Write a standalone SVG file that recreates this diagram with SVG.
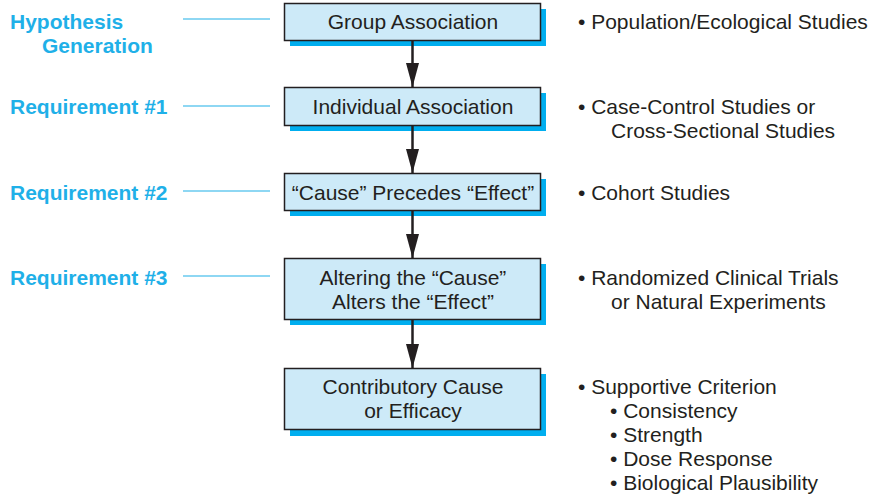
<svg xmlns="http://www.w3.org/2000/svg" width="873" height="496" viewBox="0 0 873 496">
<style>
.bx{fill:#cdeaf8;stroke:#231f20;stroke-width:1.5}
.sh{fill:#00aeef}
.bt{font-family:"Liberation Sans",Arial,sans-serif;font-size:21px;fill:#231f20;text-anchor:middle}
.lt{font-family:"Liberation Sans",Arial,sans-serif;font-size:21px;font-weight:bold;fill:#1fb0e8}
.rt{font-family:"Liberation Sans",Arial,sans-serif;font-size:21px;fill:#231f20}
.ln{stroke:#1fb0e8;stroke-width:1.2}
.ar{stroke:#231f20;stroke-width:2.5;fill:none}
</style>
<defs>
<marker id="ah" viewBox="0 0 24 13" refX="24" refY="6.5" markerWidth="24" markerHeight="13" markerUnits="userSpaceOnUse" orient="auto">
<path d="M0,0 L24,6.5 L0,13 z" fill="#231f20"/>
</marker>
</defs>
<g id="node1">
<rect class="sh" x="290" y="9" width="256" height="37"/>
<rect class="bx" x="284.5" y="3.5" width="256" height="37"/>
<text class="bt" x="413" y="29">Group Association</text>
</g>
<g id="node2">
<rect class="sh" x="290" y="93" width="256" height="38"/>
<rect class="bx" x="284.5" y="87.5" width="256" height="38"/>
<text class="bt" x="413" y="114">Individual Association</text>
</g>
<g id="node3">
<rect class="sh" x="290" y="179" width="256" height="37"/>
<rect class="bx" x="284.5" y="173.5" width="256" height="37"/>
<text class="bt" x="413" y="200">“Cause” Precedes “Effect”</text>
</g>
<g id="node4">
<rect class="sh" x="290" y="264" width="256" height="61"/>
<rect class="bx" x="284.5" y="258.5" width="256" height="61"/>
<text class="bt" x="413" y="285">Altering the “Cause”</text>
<text class="bt" x="413" y="309">Alters the “Effect”</text>
</g>
<g id="node5">
<rect class="sh" x="290" y="374" width="256" height="62"/>
<rect class="bx" x="284.5" y="368.5" width="256" height="61"/>
<text class="bt" x="413" y="394">Contributory Cause</text>
<text class="bt" x="413" y="418">or Efficacy</text>
</g>
<g id="connectors">
<line class="ar" x1="412.5" y1="41" x2="412.5" y2="87" marker-end="url(#ah)"/>
<line class="ar" x1="412.5" y1="126" x2="412.5" y2="173" marker-end="url(#ah)"/>
<line class="ar" x1="412.5" y1="211" x2="412.5" y2="258" marker-end="url(#ah)"/>
<line class="ar" x1="412.5" y1="320" x2="412.5" y2="368" marker-end="url(#ah)"/>
<line class="ln" x1="183" y1="19" x2="270" y2="19"/>
<line class="ln" x1="183" y1="106" x2="270" y2="106"/>
<line class="ln" x1="183" y1="191" x2="270" y2="191"/>
<line class="ln" x1="183" y1="276" x2="270" y2="276"/>
</g>
<g id="left-labels">
<text class="lt" x="10" y="29">Hypothesis</text>
<text class="lt" x="42" y="53">Generation</text>
<text class="lt" x="10" y="114">Requirement #1</text>
<text class="lt" x="10" y="200">Requirement #2</text>
<text class="lt" x="10" y="285">Requirement #3</text>
</g>
<g id="right-labels">
<text class="rt" x="578" y="29">• Population/Ecological Studies</text>
<text class="rt" x="578" y="114">• Case-Control Studies or</text>
<text class="rt" x="611" y="138">Cross-Sectional Studies</text>
<text class="rt" x="578" y="200">• Cohort Studies</text>
<text class="rt" x="578" y="285">• Randomized Clinical Trials</text>
<text class="rt" x="611" y="309">or Natural Experiments</text>
<text class="rt" x="578" y="394">• Supportive Criterion</text>
<text class="rt" x="610" y="418">• Consistency</text>
<text class="rt" x="610" y="442">• Strength</text>
<text class="rt" x="610" y="466">• Dose Response</text>
<text class="rt" x="610" y="490">• Biological Plausibility</text>
</g>
</svg>
